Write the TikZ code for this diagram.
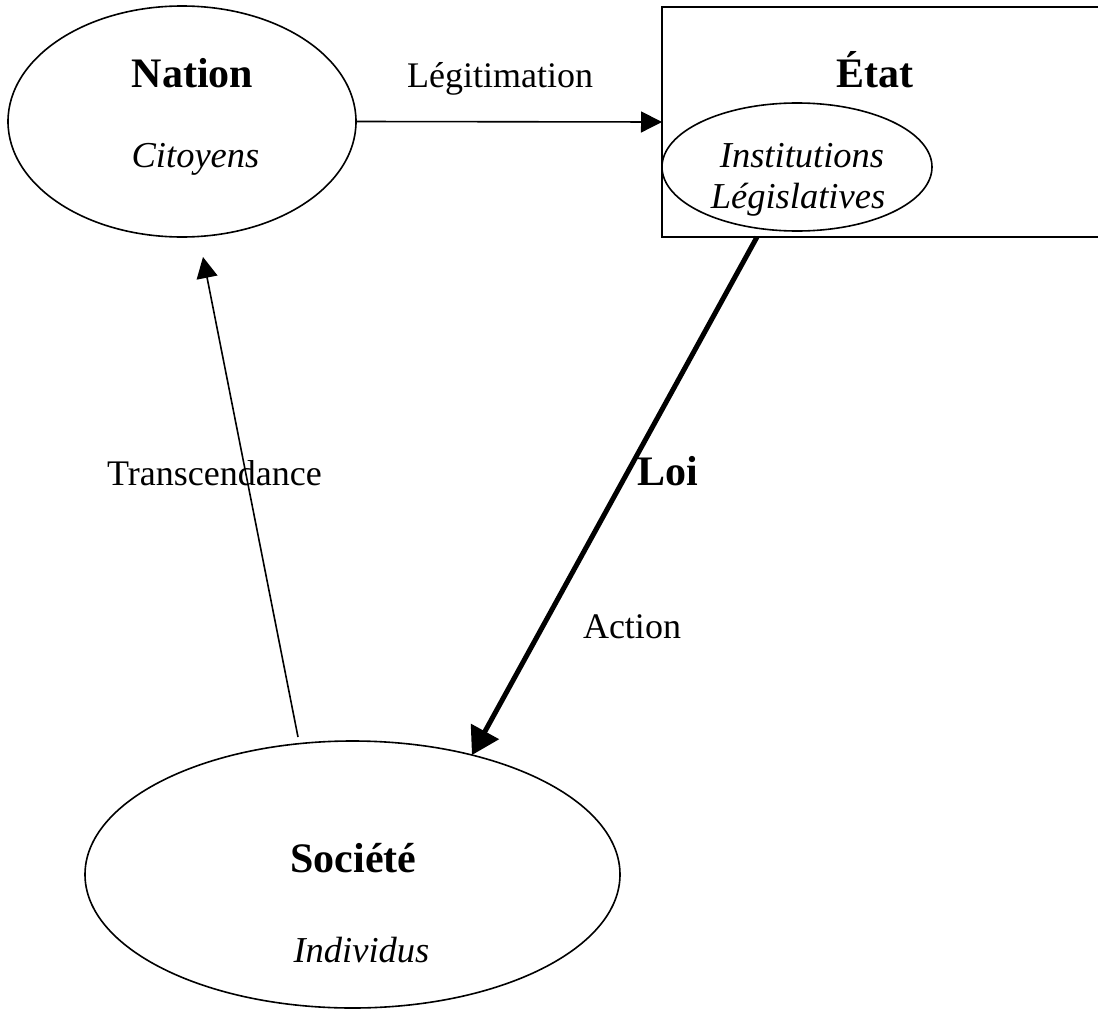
\documentclass[tikz,border=0pt]{standalone}
\usepackage{fontspec}
\setmainfont{Liberation Serif}
\usetikzlibrary{shapes.geometric,arrows.meta}

\begin{document}
\begin{tikzpicture}[x=1pt,y=-1pt,
  outline/.style={draw, line width=1.6pt, inner sep=0pt, outer sep=0pt},
  oval/.style={outline, ellipse},
  title/.style={font=\fontsize{42}{48}\selectfont\bfseries, anchor=base, inner sep=0pt},
  sub/.style={font=\fontsize{36.5}{42}\selectfont\itshape, anchor=base, inner sep=0pt},
  caption/.style={font=\fontsize{36}{42}\selectfont, anchor=base, inner sep=0pt},
  link/.style={line width=1.6pt, -{Triangle[length=21pt,width=21pt]}},
  strong/.style={line width=5pt, -{Triangle[length=27pt,width=31pt]}}]
\useasboundingbox (0,0) rectangle (1098,1009);
\clip (0,0) rectangle (1098,1009);

% main shapes
\node[oval, minimum width=348pt, minimum height=231pt] (nation) at (182,121.5) {};
\node[outline, rectangle, minimum width=460pt, minimum height=230pt, anchor=north west] (etat) at (662,7) {};
\node[oval, minimum width=270pt, minimum height=128pt] (inst) at (797,167) {};
\node[oval, minimum width=535pt, minimum height=267pt] (societe) at (352.5,874.5) {};

% texts inside the shapes
\node[title] (nationT) at (192.5,87) {Nation};
\node[sub] (citoyens) at (195.5,167) {Citoyens};
\node[title] (etatT) at (874.5,87) {État};
\node[sub] (instT) at (802,167) {Institutions};
\node[sub] (legisT) at (798,208) {Législatives};
\node[title] (societeT) at (353.5,872) {Société};
\node[sub] (individus) at (361.5,962) {Individus};

% connector labels
\node[caption] (legit) at (500,87) {Légitimation};
\node[caption] (transc) at (214.5,485) {Transcendance};
\node[title, anchor=base west] (loi) at (637,485) {Loi};
\node[caption] (action) at (632,638) {Action};

% connectors
\coordinate (loiFrom) at (757,237);
\coordinate (trFrom) at (298,737);
\coordinate (trTo) at (203,257);

\draw[link] (nation.east) -- (etat.west);
\draw[strong] (loiFrom) -- (societe.45.4);
\draw[link] (trFrom) -- (trTo);
\end{tikzpicture}
\end{document}
